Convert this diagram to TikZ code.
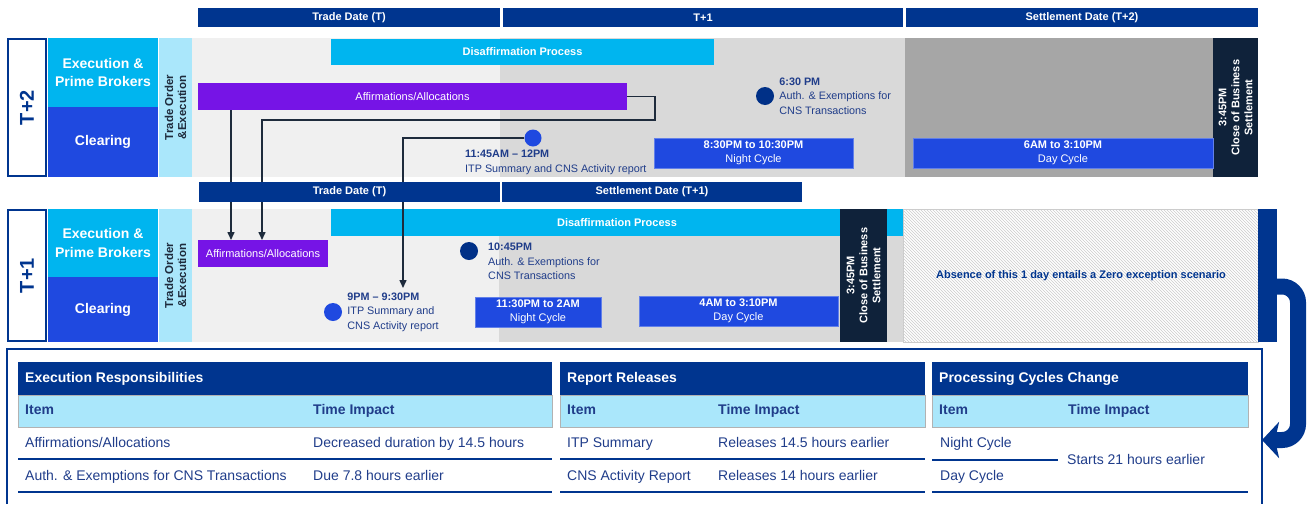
\documentclass[tikz,border=0pt]{standalone}
\usepackage{fontspec}
\setmainfont{Liberation Sans}
\usetikzlibrary{arrows.meta,patterns,positioning,calc}

\definecolor{navy}{HTML}{00358F}
\definecolor{cyanb}{HTML}{00B5EF}
\definecolor{blueb}{HTML}{1F49E0}
\definecolor{lcyan}{HTML}{AAE7FB}
\definecolor{purp}{HTML}{7614E6}
\definecolor{cobk}{HTML}{0F223A}
\definecolor{gA}{HTML}{F0F0F0}
\definecolor{gB}{HTML}{D9D9D9}
\definecolor{gC}{HTML}{A6A6A6}
\definecolor{dotnavy}{HTML}{003087}
\definecolor{tnavy}{HTML}{203D8A}
\definecolor{cdark}{HTML}{1E2B3C}

\newcommand{\fsz}[2]{\fontsize{#1}{#2}\selectfont}

\begin{document}
\begin{tikzpicture}[x=1pt,y=-1pt,
    box/.style={inner sep=0pt, outer sep=0pt, align=center},
    sz/.style 2 args={minimum width=#1pt, minimum height=#2pt},
    hdr/.style={box, fill=navy, text=white, font=\bfseries\fsz{11}{13}},
    daylab/.style={box, draw=navy, line width=2pt, fill=white, text=navy, rotate=90, font=\bfseries\fsz{20}{22}},
    role/.style={box, text=white, font=\bfseries\fsz{14}{18.5}},
    order/.style={box, fill=lcyan, text=cdark, rotate=90, font=\bfseries\fsz{11.5}{13}},
    disaff/.style={box, fill=cyanb, text=white, font=\bfseries\fsz{11}{13}},
    affbar/.style={box, fill=purp, text=white, font=\fsz{11}{13}},
    cycle/.style={box, fill=blueb, draw=blueb!70!white, text=white, font=\fsz{11}{14}},
    closebox/.style={box, fill=cobk, text=white, rotate=90, font=\bfseries\fsz{11}{13}},
    evdot/.style={circle, inner sep=0pt, minimum size=18pt, fill=#1},
    evtext/.style={inner sep=0pt, align=left, text=tnavy, font=\fsz{10.8}{14.5}},
    conn/.style={draw=cdark, line width=1.5pt, -{Triangle[length=8pt,width=7pt]}},
    tfix/.style={inner sep=0pt, anchor=west, text height=10.5pt, text depth=3pt},
    ttitle/.style={tfix, text=white, font=\bfseries\fsz{14}{16}},
    tsub/.style={tfix, text=tnavy, font=\bfseries\fsz{14}{16}},
    tcell/.style={tfix, text=tnavy, font=\fsz{14}{16}},
    rowline/.style={draw=navy, line width=1.5pt}]
\useasboundingbox (0,0) rectangle (1314,504);

% ---- T+2 timeline
\node[hdr, sz={302}{19}] (hdrTa) at (349,17.5) {Trade Date (T)};
\node[hdr, sz={400}{19}] (hdrTb) at (703,17.5) {T+1};
\node[hdr, sz={352}{19}] (hdrTc) at (1082,17.5) {Settlement Date (T+2)};

\fill[gA] (192,38) rectangle (500,177);
\fill[gB] (500,38) rectangle (905,177);
\fill[gC] (905,38) rectangle (1213,177);
\node[daylab, sz={137}{38}] (dayT2) at (27,107.5) {T+2};
\node[role, fill=cyanb, sz={110}{69}] (exeT2) at (103,72.5) {Execution \&\\Prime Brokers};
\node[role, fill=blueb, sz={110}{70}] (clrT2) at (103,142) {Clearing};
\node[order, sz={139}{33}] (ordT2) at (175.5,107.5) {Trade Order\\\&Execution};
\node[closebox, sz={139}{45}] (cobT2) at (1235.5,107.5) {3:45PM\\Close of Business\\Settlement};
\node[disaff, sz={383}{26}] (disT2) at (522.5,52) {Disaffirmation Process};
\node[affbar, sz={429}{27}] (affT2) at (412.5,96.5) {Affirmations/Allocations};
\node[cycle, sz={199}{30}] (nightT2) at (753.5,153) {\textbf{8:30PM to 10:30PM}\\Night Cycle};
\node[cycle, sz={300}{30}] (dayCT2) at (1063,153) {\textbf{6AM to 3:10PM}\\Day Cycle};

% ---- T+1 timeline
\fill[gA] (192,209) rectangle (499,342);
\fill[gB] (499,209) rectangle (903,342);
\fill[white] (903,209) rectangle (1258,342);
\fill[pattern=north west lines, pattern color=gray!40] (903,209) rectangle (1258,342);
\draw[gray!40] (903,209) rectangle (1258,342);
\node[box, text=navy, font=\bfseries\fsz{11}{13}] (absent) at (1081,276) {Absence of this 1 day entails a Zero exception scenario};
\node[box, fill=navy, sz={19}{133}] (sideT1) at (1267.5,275.5) {};
\node[daylab, sz={131}{38}] (dayT1) at (27,275.5) {T+1};
\node[role, fill=cyanb, sz={110}{68}] (exeT1) at (103,243) {Execution \&\\Prime Brokers};
\node[role, fill=blueb, sz={110}{65}] (clrT1) at (103,309.5) {Clearing};
\node[order, sz={133}{33}] (ordT1) at (175.5,275.5) {Trade Order\\\&Execution};
\node[disaff, sz={572}{27}] (disT1) at (617,222.5) {Disaffirmation Process};
\node[closebox, sz={133}{47}] (cobT1) at (863.5,275.5) {3:45PM\\Close of Business\\Settlement};
\node[affbar, sz={130}{27}] (affT1) at (263,253.5) {Affirmations/Allocations};
\node[cycle, sz={126}{30}] (nightT1) at (538,312) {\textbf{11:30PM to 2AM}\\Night Cycle};
\node[cycle, sz={199}{30}] (dayCT1) at (738.5,311) {\textbf{4AM to 3:10PM}\\Day Cycle};

% events
\node[evdot=dotnavy] (ev630) at (765,96) {};
\node[evtext, right=5pt of ev630] (tx630) {\textbf{6:30 PM}\\Auth. \& Exemptions for\\CNS Transactions};
\node[evdot=blueb, minimum size=17pt] (evITP2) at (533,138) {};
\node[evtext, anchor=west] (txITP2) at (465,162.5) {\textbf{11:45AM -- 12PM}\\ITP Summary and CNS Activity report};
\node[evdot=dotnavy] (ev1045) at (469,251) {};
\node[evtext, anchor=west] (tx1045) at (488,261.5) {\textbf{10:45PM}\\Auth. \& Exemptions for\\CNS Transactions};
\node[evdot=blueb] (evITP1) at (333,312) {};
\node[evtext, right=5pt of evITP1] (txITP1) {\textbf{9PM -- 9:30PM}\\ITP Summary and\\CNS Activity report};

% connectors between the two timelines
\coordinate (affLoop) at (655,120);
\coordinate (itpIn) at (403,288);
\draw[conn] ([xshift=33pt]affT2.south west) -- ([xshift=33pt]affT1.north west);
\draw[conn] (affT2.east) -| (affLoop) -| ([xshift=64pt]affT1.north west);
\draw[conn] (evITP2.west) -| (itpIn);

\node[hdr, sz={301}{20}] (hdrMa) at (349.5,192) {Trade Date (T)};
\node[hdr, sz={300}{20}] (hdrMb) at (652,192) {Settlement Date (T+1)};

% ---- summary tables
\coordinate (frR) at (1262,440);
\draw[navy, line width=1.5pt] (7,504) -- (7,349) -- (1262,349) -- (1262,504);
\draw[navy, line width=16pt, rounded corners=16pt, -{Stealth[length=17pt,width=36pt,inset=4pt]}]
  ([yshift=-11pt]sideT1.east) -- ++(21,0) -- ++(0,153.5) -- (frR);

\foreach \xa/\xb/\xc/\ttl [count=\i] in {18/552/313/Execution Responsibilities,
    560/925/718/Report Releases, 932/1248/1068/Processing Cycles Change}{
  \fill[navy] (\xa,362) rectangle (\xb,395);
  \draw[gray!60, fill=lcyan] (\xa,395) rectangle (\xb,427);
  \node[ttitle] (title\i) at (\xa+7,378.5) {\ttl};
  \node[tsub] (item\i) at (\xa+7,411) {Item};
  \node[tsub] (impact\i) at (\xc,411) {Time Impact};
  \draw[rowline] (\xa,492) -- (\xb,492);
}
\draw[rowline] (18,459) -- (552,459);
\draw[rowline] (560,459) -- (925,459);
\draw[rowline] (932,460) -- (1058,460);

\node[tcell] (c11) at (25,444) {Affirmations/Allocations};
\node[tcell] (c12) at (313,444) {Decreased duration by 14.5 hours};
\node[tcell] (c21) at (25,477) {Auth. \& Exemptions for CNS Transactions};
\node[tcell] (c22) at (313,477) {Due 7.8 hours earlier};
\node[tcell] (r11) at (567,444) {ITP Summary};
\node[tcell] (r12) at (718,444) {Releases 14.5 hours earlier};
\node[tcell] (r21) at (567,477) {CNS Activity Report};
\node[tcell] (r22) at (718,477) {Releases 14 hours earlier};
\node[tcell] (p11) at (940,444) {Night Cycle};
\node[tcell] (p21) at (940,477) {Day Cycle};
\node[tcell] (p12) at (1067,461) {Starts 21 hours earlier};
\end{tikzpicture}
\end{document}
